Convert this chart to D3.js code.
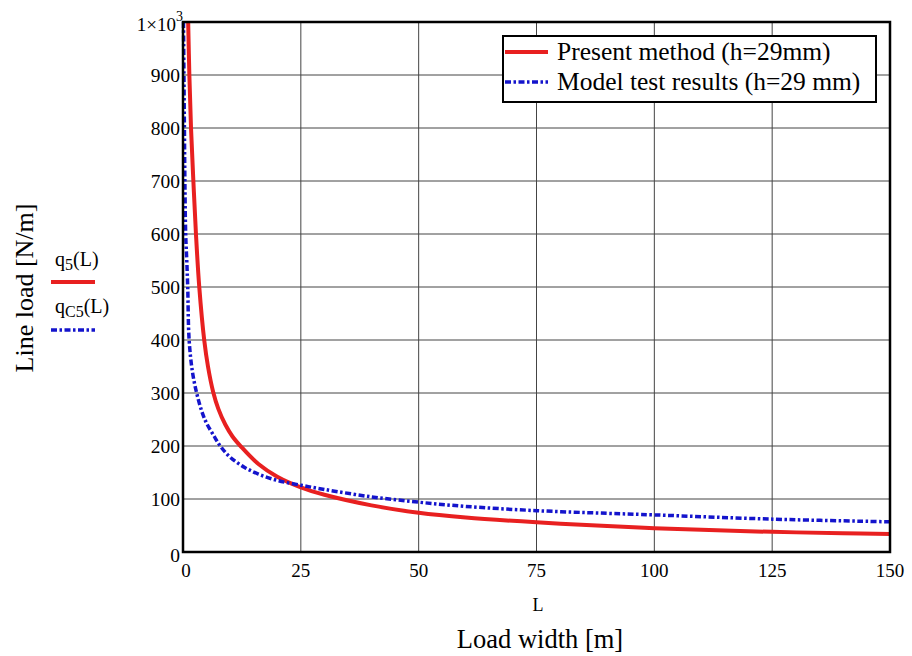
<!DOCTYPE html>
<html>
<head>
<meta charset="utf-8">
<script src="https://cdn.jsdelivr.net/npm/d3@7"></script>
<style>
  body { margin: 0; background: #fff; }
</style>
</head>
<body>
<div id="chart"></div>
<script>
// Data
var presentL = [1.1, 1.35, 1.7, 2.2, 2.75, 3.45, 4.5, 5.3, 6.4, 7.5, 9, 10.5, 12.4, 16, 20, 25, 30, 40, 50, 60, 75, 90, 100, 110, 125, 140, 150];
var presentQ = [1000, 900, 800, 700, 600, 500, 400, 350, 302, 270, 240, 218, 198, 166, 142, 122, 108, 88, 74, 65, 56, 49, 45, 42, 38, 35.5, 34];

var modelL = [0.1, 0.2, 0.3, 0.4, 0.57, 0.8, 1.0, 1.3, 2, 2.9, 4, 5, 6.5, 7.9, 10, 13, 16, 20, 25, 30, 40, 50, 60, 75, 90, 100, 125, 150];
var modelQ = [1000, 900, 800, 700, 600, 550, 500, 400, 340, 300, 265, 243, 220, 200, 179, 160, 147, 135, 126, 118, 104, 94, 86, 78, 73, 70, 62, 57];

var xTicks = [0, 25, 50, 75, 100, 125, 150];
var yTicks = [0, 100, 200, 300, 400, 500, 600, 700, 800, 900];

var seriesNames = ["Present method (h=29mm)", "Model test results (h=29 mm)"];

// Kich thuoc
var width = 912;
var height = 656;
var plot = {left: 183, right: 890, top: 22, bottom: 552};
var serif = "'Liberation Serif', 'DejaVu Serif', serif";

var svg = d3.select("#chart")
  .append("svg")
  .attr("width", width)
  .attr("height", height)
  .attr("font-family", serif);

var x = d3.scaleLinear()
  .domain([0, 150])
  .range([plot.left, plot.right]);

var y = d3.scaleLinear()
  .domain([0, 1000])
  .range([plot.bottom, plot.top]);

// Grid lines
svg.append("g")
  .selectAll("line.vgrid")
  .data(xTicks.slice(1, -1))
  .enter().append("line")
  .attr("x1", function(d) { return x(d); })
  .attr("x2", function(d) { return x(d); })
  .attr("y1", plot.top)
  .attr("y2", plot.bottom)
  .attr("stroke", "#444")
  .attr("stroke-width", 1);

svg.append("g")
  .selectAll("line.hgrid")
  .data(yTicks.slice(1))
  .enter().append("line")
  .attr("x1", plot.left)
  .attr("x2", plot.right)
  .attr("y1", function(d) { return y(d); })
  .attr("y2", function(d) { return y(d); })
  .attr("stroke", "#444")
  .attr("stroke-width", 1);

// Curves
var presentData = presentL.map(function(d, i) { return {L: d, q: presentQ[i]}; });
var modelData = modelL.map(function(d, i) { return {L: d, q: modelQ[i]}; });

var line = d3.line()
  .x(function(d) { return x(d.L); })
  .y(function(d) { return y(d.q); })
  .curve(d3.curveCatmullRom.alpha(0.5));

svg.append("path")
  .datum(presentData)
  .attr("d", line)
  .attr("fill", "none")
  .attr("stroke", "#e82020")
  .attr("stroke-width", 4);

svg.append("path")
  .datum(modelData)
  .attr("d", line)
  .attr("fill", "none")
  .attr("stroke", "#1414cc")
  .attr("stroke-width", 3.5)
  .attr("stroke-dasharray", "6,2.5,2.5,2.5");

// Frame
svg.append("rect")
  .attr("x", plot.left)
  .attr("y", plot.top)
  .attr("width", plot.right - plot.left)
  .attr("height", plot.bottom - plot.top)
  .attr("fill", "none")
  .attr("stroke", "#000")
  .attr("stroke-width", 2.5);

// Tick labels
svg.append("g")
  .selectAll("text")
  .data(xTicks)
  .enter().append("text")
  .attr("x", function(d) { return x(d) + (d === 0 ? 3 : 0); })
  .attr("y", 577)
  .attr("text-anchor", "middle")
  .attr("font-size", 19)
  .text(function(d) { return d; });

svg.append("g")
  .selectAll("text")
  .data(yTicks)
  .enter().append("text")
  .attr("x", plot.left - 3)
  .attr("y", function(d) { return y(d) + 6.5 + (d === 0 ? 3 : 0); })
  .attr("text-anchor", "end")
  .attr("font-size", 19.5)
  .text(function(d) { return d; });

var topLabel = svg.append("text")
  .attr("x", plot.left)
  .attr("y", y(1000) + 9)
  .attr("text-anchor", "end")
  .attr("font-size", 19);
topLabel.append("tspan").text("1\u00d710");
topLabel.append("tspan")
  .attr("dy", -10)
  .attr("font-size", 14)
  .text("3");

// Axis titles
svg.append("text")
  .attr("x", 538)
  .attr("y", 611)
  .attr("text-anchor", "middle")
  .attr("font-size", 18)
  .text("L");

svg.append("text")
  .attr("x", 540)
  .attr("y", 648)
  .attr("text-anchor", "middle")
  .attr("font-size", 26.5)
  .text("Load width [m]");

svg.append("text")
  .attr("transform", "translate(33,288) rotate(-90)")
  .attr("text-anchor", "middle")
  .attr("font-size", 26)
  .text("Line load [N/m]");

// Left trace labels
var q1 = svg.append("text").attr("x", 55).attr("y", 266).attr("font-size", 20);
q1.append("tspan").text("q");
q1.append("tspan").attr("dy", 4).attr("font-size", 16).text("5");
q1.append("tspan").attr("dy", -4).text("(L)");
svg.append("line")
  .attr("x1", 51).attr("x2", 95).attr("y1", 282).attr("y2", 282)
  .attr("stroke", "#e82020").attr("stroke-width", 4);

var q2 = svg.append("text").attr("x", 55).attr("y", 313).attr("font-size", 20);
q2.append("tspan").text("q");
q2.append("tspan").attr("dy", 4).attr("font-size", 16).text("C5");
q2.append("tspan").attr("dy", -4).text("(L)");
svg.append("line")
  .attr("x1", 51).attr("x2", 95).attr("y1", 330).attr("y2", 330)
  .attr("stroke", "#1414cc").attr("stroke-width", 3.5)
  .attr("stroke-dasharray", "6,2.5,2.5,2.5");

// Legend
var legend = svg.append("g");
legend.append("rect")
  .attr("x", 503)
  .attr("y", 36)
  .attr("width", 373)
  .attr("height", 66)
  .attr("fill", "#fff")
  .attr("stroke", "#000")
  .attr("stroke-width", 2);

var legendColors = ["#e82020", "#1414cc"];
var legendDash = [null, "6,2.5,2.5,2.5"];

legend.selectAll("line")
  .data(seriesNames)
  .enter().append("line")
  .attr("x1", 505)
  .attr("x2", 548)
  .attr("y1", function(d, i) { return 52 + i * 30; })
  .attr("y2", function(d, i) { return 52 + i * 30; })
  .attr("stroke", function(d, i) { return legendColors[i]; })
  .attr("stroke-width", function(d, i) { return i === 0 ? 4 : 3.5; })
  .attr("stroke-dasharray", function(d, i) { return legendDash[i]; });

legend.selectAll("text")
  .data(seriesNames)
  .enter().append("text")
  .attr("x", 557)
  .attr("y", function(d, i) { return 60 + i * 30; })
  .attr("font-size", 25.5)
  .text(function(d) { return d; });
</script>
</body>
</html>
